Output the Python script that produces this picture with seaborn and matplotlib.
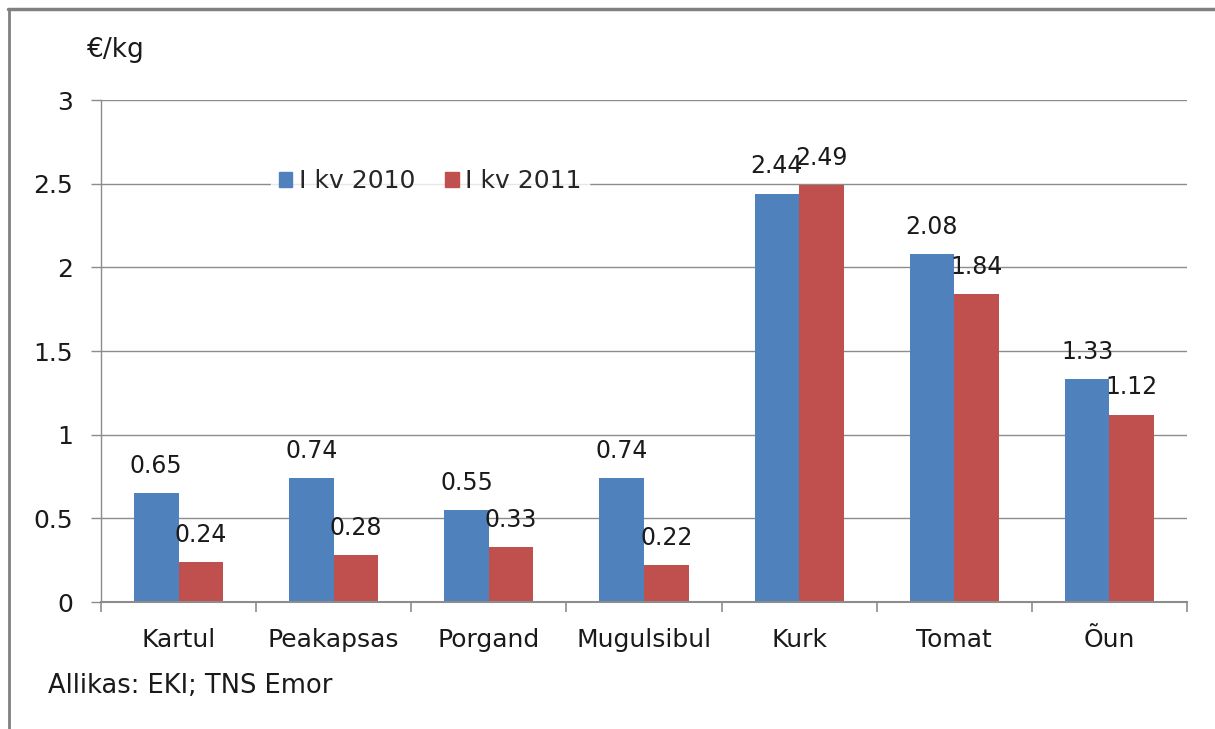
import pandas as pd
import matplotlib.pyplot as plt
from matplotlib.lines import Line2D
import seaborn as sns

# values
vegetables = ['Kartul', 'Peakapsas', 'Porgand', 'Mugulsibul', 'Kurk', 'Tomat', 'Õun']
price_2010 = [0.65, 0.74, 0.55, 0.74, 2.44, 2.08, 1.33]
price_2011 = [0.24, 0.28, 0.33, 0.22, 2.49, 1.84, 1.12]
periods = ['I kv 2010', 'I kv 2011']
colors = ['#4F81BD', '#C0504D']
y_ticks = [0, 0.5, 1, 1.5, 2, 2.5, 3]


def build_frame():
    """Long table for seaborn."""
    rows = []
    for name, a, b in zip(vegetables, price_2010, price_2011):
        rows.append({'Toode': name, 'Periood': periods[0], 'Hind': a})
        rows.append({'Toode': name, 'Periood': periods[1], 'Hind': b})
    return pd.DataFrame(rows)


def plot_prices(df):
    sns.set_style('white')
    plt.rcParams['font.family'] = ['DejaVu Sans']
    fs = 18
    fig = plt.figure(figsize=(12.15, 7.29), dpi=100)
    ax = fig.add_axes([101 / 1215, 1 - 602 / 729, 1086 / 1215, 502 / 729])

    sns.barplot(data=df, x='Toode', y='Hind', hue='Periood', palette=colors,
                width=0.575, gap=0, saturation=1, linewidth=0, ax=ax, errorbar=None)

    ax.set_ylim(0, 3)
    ax.set_xlim(-0.5, len(vegetables) - 0.5)
    ax.set_yticks(y_ticks)
    ax.set_yticklabels(['0', '0.5', '1', '1.5', '2', '2.5', '3'])
    ax.yaxis.grid(True, color='#8c8c8c', linewidth=1)
    ax.set_axisbelow(True)
    ax.set_xlabel('')
    ax.set_ylabel('')

    for side in ['top', 'right']:
        ax.spines[side].set_visible(False)
    for side in ['left', 'bottom']:
        ax.spines[side].set_color('#8c8c8c')
        ax.spines[side].set_linewidth(1.5)
    ax.spines['left'].set_linewidth(1)

    ax.set_xticks([i - 0.5 for i in range(len(vegetables) + 1)], minor=True)
    ax.tick_params(axis='x', which='minor', length=7, width=1.2, color='#8c8c8c', direction='out', bottom=True)
    ax.tick_params(axis='x', which='major', length=0, pad=19, labelsize=fs, colors='#1a1a1a')
    ax.tick_params(axis='y', which='major', length=7, width=1, color='#8c8c8c', direction='out', left=True,
                   pad=13, labelsize=fs, labelcolor='#1a1a1a')

    for cont in ax.containers:
        ax.bar_label(cont, fmt='%.2f', padding=11, fontsize=17, color='#1a1a1a')

    handles = [plt.Rectangle((0, 0), 1, 1, color=c) for c in colors]
    leg = ax.legend(handles, periods, loc='center', bbox_to_anchor=(430 / 1215, 1 - 181 / 729),
                    bbox_transform=fig.transFigure, ncol=2, frameon=True, fontsize=fs,
                    handlelength=0.55, handleheight=0.55, handletextpad=0.25, columnspacing=1.2,
                    borderpad=0.3, fancybox=False)
    leg.get_frame().set_facecolor('white')
    leg.get_frame().set_edgecolor('white')

    fig.text(87 / 1215, 1 - 50 / 729, '€/kg', fontsize=19, va='center', ha='left', color='#1a1a1a')
    fig.text(48 / 1215, 1 - 686 / 729, 'Allikas: EKI; TNS Emor', fontsize=18.5, va='center', ha='left',
             color='#1a1a1a')

    # outer frame (top and left edges visible in the reference)
    fig.add_artist(Line2D([8 / 1215, 1], [1 - 9 / 729, 1 - 9 / 729], transform=fig.transFigure,
                          color='#808080', linewidth=2.5))
    fig.add_artist(Line2D([9 / 1215, 9 / 1215], [0, 1 - 9 / 729], transform=fig.transFigure,
                          color='#808080', linewidth=2))

    fig.savefig('out.png', dpi=100)


if __name__ == "__main__":
    plot_prices(build_frame())
